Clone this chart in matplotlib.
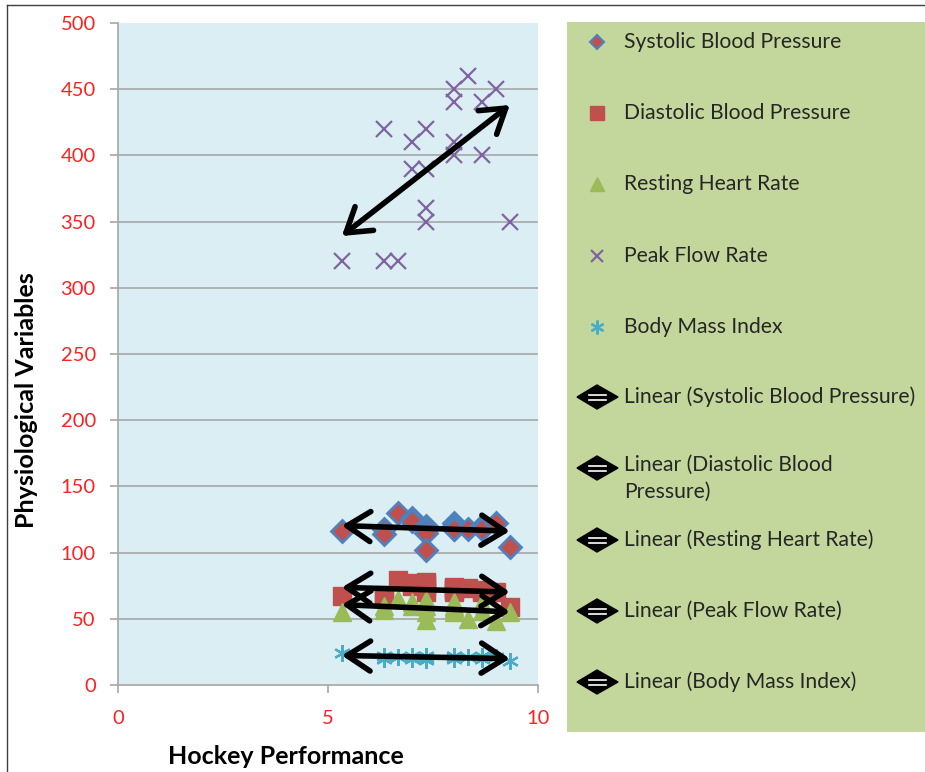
import matplotlib
matplotlib.use("Agg")
import matplotlib.pyplot as plt
import numpy as np
from matplotlib.lines import Line2D
from matplotlib.patches import Polygon

plt.rcParams['font.family'] = ['Lato', 'DejaVu Sans']

# hockey performance score of each player and the five measures
performance = [5.33, 6.33, 6.33, 6.67, 7.0, 7.0, 7.33, 7.33, 7.33, 7.33,
               8.0, 8.0, 8.0, 8.0, 8.33, 8.67, 8.67, 9.0, 9.33]
systolic = [116, 118, 114, 130, 126, 124, 120, 118, 115, 102,
            122, 118, 120, 118, 118, 120, 118, 122, 104]
diastolic = [67, 68, 66, 79, 77, 75, 78, 76, 74, 70,
             74, 73, 72, 70, 73, 72, 70, 70, 59]
resting_hr = [55, 57, 60, 65, 63, 60, 64, 60, 55, 49,
              63, 55, 58, 60, 50, 62, 56, 48, 55]
peak_flow = [320, 320, 420, 320, 410, 390, 420, 390, 360, 350,
             450, 440, 410, 400, 460, 440, 400, 450, 350]
bmi = [24, 22, 20, 21, 22, 20, 21, 22, 20, 19,
       22, 21, 20, 22, 21, 22, 20, 21, 18]

names = ['Systolic Blood Pressure', 'Diastolic Blood Pressure',
         'Resting Heart Rate', 'Peak Flow Rate', 'Body Mass Index']
series = [systolic, diastolic, resting_hr, peak_flow, bmi]

fig = plt.figure(figsize=(9.25, 7.72), dpi=100)
ax = fig.add_axes([0.1276, 0.1127, 0.454, 0.8575])
ax.set_facecolor('#DAEEF3')

grid_col = '#A6A6A6'
ax.set_xlim(0, 10)
ax.set_ylim(0, 500)
ax.set_xticks([0, 5, 10])
ax.set_yticks(range(0, 501, 50))
for y in range(50, 500, 50):
    ax.axhline(y, color=grid_col, lw=1.2, zorder=0)
for s in ['top', 'right']:
    ax.spines[s].set_visible(False)
for s in ['left', 'bottom']:
    ax.spines[s].set_color(grid_col)
    ax.spines[s].set_linewidth(1.2)
ax.tick_params(colors=grid_col, labelcolor='#FF2020', labelsize=14.5,
               length=6, width=1.2, direction='out')
ax.tick_params(axis='y', pad=10)
ax.tick_params(axis='x', pad=12)

x = np.array(performance)
# markers
ax.plot(x, systolic, ls='none', marker='D', ms=11, mfc='#C0504D',
        mec='#4F81BD', mew=2, zorder=3)
ax.plot(x, diastolic, ls='none', marker='s', ms=12.5, mfc='#C0504D',
        mec='#C0504D', zorder=3)
ax.plot(x, resting_hr, ls='none', marker='^', ms=12.5, mfc='#9BBB59',
        mec='#9BBB59', zorder=3)
ax.plot(x, peak_flow, ls='none', marker='x', ms=11, mec='#8064A2',
        mew=1.6, zorder=3)
ax.plot(x, bmi, ls='none', marker=(6, 2, 0), ms=12, mec='#4BACC6',
        mew=1.6, zorder=3)

# linear trendlines with arrow heads at both ends
for vals in series:
    k, b = np.polyfit(x, vals, 1)
    x0, x1 = x.min(), x.max()
    ax.annotate('', xy=(x1, k * x1 + b), xytext=(x0, k * x0 + b),
                arrowprops=dict(arrowstyle='<->, head_length=0.7, head_width=0.45',
                                color='black', lw=4, mutation_scale=24,
                                shrinkA=0, shrinkB=0),
                zorder=4)

ax.set_ylabel('Physiological Variables', fontsize=18, fontweight='bold')
ax.set_xlabel('Hockey Performance', fontsize=18, fontweight='bold')
ax.yaxis.set_label_coords(-0.19, 0.43)
ax.xaxis.set_label_coords(0.4, -0.09)

# legend panel
lg = fig.add_axes([567 / 925, 1 - 732 / 772, 358 / 925, 710 / 772])
lg.set_facecolor('#C3D69B')
lg.set_xlim(0, 358)
lg.set_ylim(710, 0)
lg.set_xticks([])
lg.set_yticks([])
for s in lg.spines.values():
    s.set_visible(False)

rows = [20, 91, 162, 234, 305]
styles = [dict(marker='D', ms=7, mfc='#C0504D', mec='#4F81BD', mew=1.5),
          dict(marker='s', ms=9.5, mfc='#C0504D', mec='#C0504D'),
          dict(marker='^', ms=9.5, mfc='#9BBB59', mec='#9BBB59'),
          dict(marker='x', ms=9, mec='#8064A2', mew=1.6),
          dict(marker=(6, 2, 0), ms=10, mec='#4BACC6', mew=1.6)]
fs = 15.2
for yy, name, st in zip(rows, names, styles):
    lg.plot([30], [yy], ls='none', **st)
    lg.text(57, yy, name, fontsize=fs, va='center', color='#262626')

trows = [375, 446, 518, 589, 660]
for yy, name in zip(trows, names):
    lg.add_patch(Polygon([[10, yy], [30, yy - 12], [51, yy], [30, yy + 12]],
                         closed=True, color='black'))
    lg.plot([22, 39], [yy - 2.5, yy - 2.5], color='white', lw=1.2)
    lg.plot([22, 39], [yy + 2.5, yy + 2.5], color='white', lw=1.2)
    label = 'Linear (' + name + ')'
    if name == 'Diastolic Blood Pressure':
        label = 'Linear (Diastolic Blood\nPressure)'
        lg.text(57, yy - 13, label, fontsize=fs, va='top', color='#262626',
                linespacing=1.45)
    else:
        lg.text(57, yy, label, fontsize=fs, va='center', color='#262626')

# outer chart border
fig.add_artist(Line2D([7 / 925, 7 / 925], [0, 1 - 5 / 772], color='#404040', lw=1))
fig.add_artist(Line2D([7 / 925, 1], [1 - 5 / 772, 1 - 5 / 772], color='#404040', lw=1))

fig.savefig('out.png', dpi=100)
